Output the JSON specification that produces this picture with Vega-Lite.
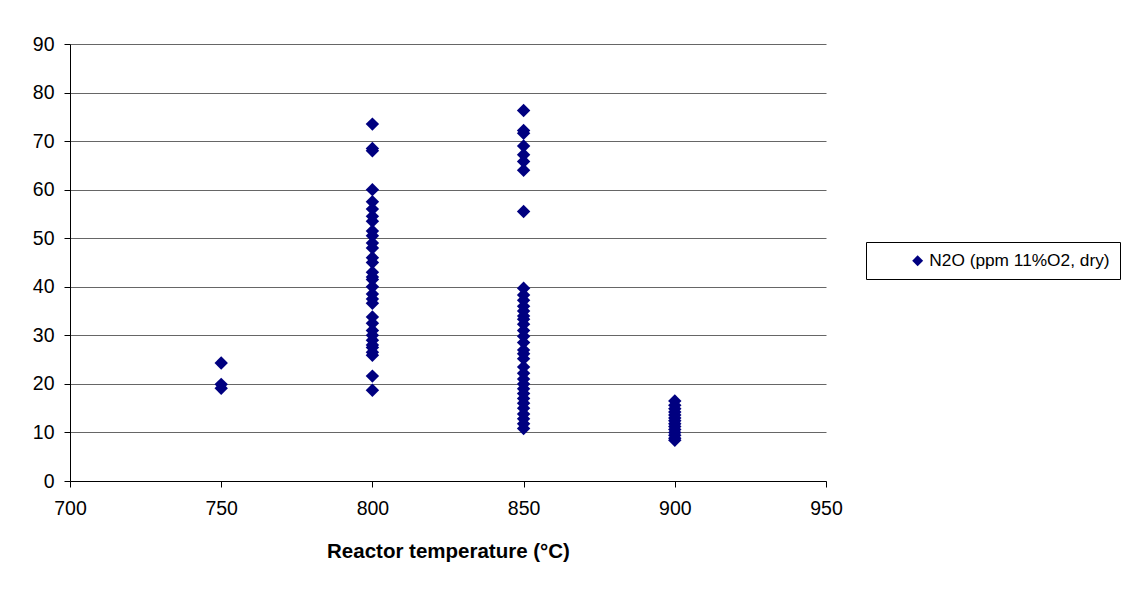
{
  "$schema": "https://vega.github.io/schema/vega-lite/v6.json",
  "width": 756,
  "height": 437,
  "autosize": {"type": "none"},
  "padding": {"left": 70, "top": 44, "right": 312, "bottom": 113},
  "background": "white",
  "config": {
    "font": "Liberation Sans",
    "view": {"stroke": null},
    "axis": {
      "labelFont": "Liberation Sans",
      "labelFontSize": 19.5,
      "labelColor": "#000000",
      "domainColor": "#000000",
      "tickColor": "#000000",
      "gridColor": "#666666",
      "tickSize": 6
    }
  },
  "data": {
    "values": [
      {"temp": 750, "n2o": 24.3, "series": "N2O (ppm 11%O2, dry)"},
      {"temp": 750, "n2o": 19.9, "series": "N2O (ppm 11%O2, dry)"},
      {"temp": 750, "n2o": 19.1, "series": "N2O (ppm 11%O2, dry)"},
      {"temp": 800, "n2o": 73.5, "series": "N2O (ppm 11%O2, dry)"},
      {"temp": 800, "n2o": 68.5, "series": "N2O (ppm 11%O2, dry)"},
      {"temp": 800, "n2o": 68.0, "series": "N2O (ppm 11%O2, dry)"},
      {"temp": 800, "n2o": 60.0, "series": "N2O (ppm 11%O2, dry)"},
      {"temp": 800, "n2o": 57.5, "series": "N2O (ppm 11%O2, dry)"},
      {"temp": 800, "n2o": 56.0, "series": "N2O (ppm 11%O2, dry)"},
      {"temp": 800, "n2o": 54.5, "series": "N2O (ppm 11%O2, dry)"},
      {"temp": 800, "n2o": 53.5, "series": "N2O (ppm 11%O2, dry)"},
      {"temp": 800, "n2o": 51.5, "series": "N2O (ppm 11%O2, dry)"},
      {"temp": 800, "n2o": 50.5, "series": "N2O (ppm 11%O2, dry)"},
      {"temp": 800, "n2o": 49.0, "series": "N2O (ppm 11%O2, dry)"},
      {"temp": 800, "n2o": 48.0, "series": "N2O (ppm 11%O2, dry)"},
      {"temp": 800, "n2o": 46.0, "series": "N2O (ppm 11%O2, dry)"},
      {"temp": 800, "n2o": 45.0, "series": "N2O (ppm 11%O2, dry)"},
      {"temp": 800, "n2o": 43.0, "series": "N2O (ppm 11%O2, dry)"},
      {"temp": 800, "n2o": 42.0, "series": "N2O (ppm 11%O2, dry)"},
      {"temp": 800, "n2o": 41.5, "series": "N2O (ppm 11%O2, dry)"},
      {"temp": 800, "n2o": 40.0, "series": "N2O (ppm 11%O2, dry)"},
      {"temp": 800, "n2o": 38.5, "series": "N2O (ppm 11%O2, dry)"},
      {"temp": 800, "n2o": 37.5, "series": "N2O (ppm 11%O2, dry)"},
      {"temp": 800, "n2o": 36.6, "series": "N2O (ppm 11%O2, dry)"},
      {"temp": 800, "n2o": 33.8, "series": "N2O (ppm 11%O2, dry)"},
      {"temp": 800, "n2o": 32.5, "series": "N2O (ppm 11%O2, dry)"},
      {"temp": 800, "n2o": 31.0, "series": "N2O (ppm 11%O2, dry)"},
      {"temp": 800, "n2o": 30.0, "series": "N2O (ppm 11%O2, dry)"},
      {"temp": 800, "n2o": 29.0, "series": "N2O (ppm 11%O2, dry)"},
      {"temp": 800, "n2o": 28.0, "series": "N2O (ppm 11%O2, dry)"},
      {"temp": 800, "n2o": 27.5, "series": "N2O (ppm 11%O2, dry)"},
      {"temp": 800, "n2o": 26.5, "series": "N2O (ppm 11%O2, dry)"},
      {"temp": 800, "n2o": 25.9, "series": "N2O (ppm 11%O2, dry)"},
      {"temp": 800, "n2o": 21.6, "series": "N2O (ppm 11%O2, dry)"},
      {"temp": 800, "n2o": 18.7, "series": "N2O (ppm 11%O2, dry)"},
      {"temp": 850, "n2o": 76.3, "series": "N2O (ppm 11%O2, dry)"},
      {"temp": 850, "n2o": 72.2, "series": "N2O (ppm 11%O2, dry)"},
      {"temp": 850, "n2o": 71.6, "series": "N2O (ppm 11%O2, dry)"},
      {"temp": 850, "n2o": 69.0, "series": "N2O (ppm 11%O2, dry)"},
      {"temp": 850, "n2o": 67.2, "series": "N2O (ppm 11%O2, dry)"},
      {"temp": 850, "n2o": 65.8, "series": "N2O (ppm 11%O2, dry)"},
      {"temp": 850, "n2o": 64.0, "series": "N2O (ppm 11%O2, dry)"},
      {"temp": 850, "n2o": 55.5, "series": "N2O (ppm 11%O2, dry)"},
      {"temp": 850, "n2o": 39.7, "series": "N2O (ppm 11%O2, dry)"},
      {"temp": 850, "n2o": 38.3, "series": "N2O (ppm 11%O2, dry)"},
      {"temp": 850, "n2o": 37.2, "series": "N2O (ppm 11%O2, dry)"},
      {"temp": 850, "n2o": 36.0, "series": "N2O (ppm 11%O2, dry)"},
      {"temp": 850, "n2o": 35.0, "series": "N2O (ppm 11%O2, dry)"},
      {"temp": 850, "n2o": 34.0, "series": "N2O (ppm 11%O2, dry)"},
      {"temp": 850, "n2o": 33.3, "series": "N2O (ppm 11%O2, dry)"},
      {"temp": 850, "n2o": 32.3, "series": "N2O (ppm 11%O2, dry)"},
      {"temp": 850, "n2o": 31.0, "series": "N2O (ppm 11%O2, dry)"},
      {"temp": 850, "n2o": 29.8, "series": "N2O (ppm 11%O2, dry)"},
      {"temp": 850, "n2o": 28.5, "series": "N2O (ppm 11%O2, dry)"},
      {"temp": 850, "n2o": 27.0, "series": "N2O (ppm 11%O2, dry)"},
      {"temp": 850, "n2o": 26.2, "series": "N2O (ppm 11%O2, dry)"},
      {"temp": 850, "n2o": 25.2, "series": "N2O (ppm 11%O2, dry)"},
      {"temp": 850, "n2o": 23.5, "series": "N2O (ppm 11%O2, dry)"},
      {"temp": 850, "n2o": 22.2, "series": "N2O (ppm 11%O2, dry)"},
      {"temp": 850, "n2o": 21.0, "series": "N2O (ppm 11%O2, dry)"},
      {"temp": 850, "n2o": 20.0, "series": "N2O (ppm 11%O2, dry)"},
      {"temp": 850, "n2o": 19.0, "series": "N2O (ppm 11%O2, dry)"},
      {"temp": 850, "n2o": 18.0, "series": "N2O (ppm 11%O2, dry)"},
      {"temp": 850, "n2o": 17.0, "series": "N2O (ppm 11%O2, dry)"},
      {"temp": 850, "n2o": 16.0, "series": "N2O (ppm 11%O2, dry)"},
      {"temp": 850, "n2o": 15.0, "series": "N2O (ppm 11%O2, dry)"},
      {"temp": 850, "n2o": 13.8, "series": "N2O (ppm 11%O2, dry)"},
      {"temp": 850, "n2o": 12.8, "series": "N2O (ppm 11%O2, dry)"},
      {"temp": 850, "n2o": 11.8, "series": "N2O (ppm 11%O2, dry)"},
      {"temp": 850, "n2o": 10.8, "series": "N2O (ppm 11%O2, dry)"},
      {"temp": 900, "n2o": 16.5, "series": "N2O (ppm 11%O2, dry)"},
      {"temp": 900, "n2o": 15.6, "series": "N2O (ppm 11%O2, dry)"},
      {"temp": 900, "n2o": 14.9, "series": "N2O (ppm 11%O2, dry)"},
      {"temp": 900, "n2o": 14.2, "series": "N2O (ppm 11%O2, dry)"},
      {"temp": 900, "n2o": 13.6, "series": "N2O (ppm 11%O2, dry)"},
      {"temp": 900, "n2o": 13.0, "series": "N2O (ppm 11%O2, dry)"},
      {"temp": 900, "n2o": 12.4, "series": "N2O (ppm 11%O2, dry)"},
      {"temp": 900, "n2o": 11.8, "series": "N2O (ppm 11%O2, dry)"},
      {"temp": 900, "n2o": 11.2, "series": "N2O (ppm 11%O2, dry)"},
      {"temp": 900, "n2o": 10.6, "series": "N2O (ppm 11%O2, dry)"},
      {"temp": 900, "n2o": 10.0, "series": "N2O (ppm 11%O2, dry)"},
      {"temp": 900, "n2o": 9.4, "series": "N2O (ppm 11%O2, dry)"},
      {"temp": 900, "n2o": 8.8, "series": "N2O (ppm 11%O2, dry)"},
      {"temp": 900, "n2o": 8.4, "series": "N2O (ppm 11%O2, dry)"}
    ]
  },
  "mark": {"type": "point", "shape": "diamond", "filled": true, "size": 180, "opacity": 1},
  "encoding": {
    "x": {
      "field": "temp",
      "type": "quantitative",
      "scale": {"domain": [700, 950], "nice": false, "zero": false},
      "axis": {
        "values": [700, 750, 800, 850, 900, 950],
        "grid": false,
        "labelFlush": false,
        "labelPadding": 12,
        "title": "Reactor temperature (°C)",
        "titleFont": "Liberation Sans",
        "titleFontSize": 20.5,
        "titleFontWeight": "bold",
        "titleColor": "#000000",
        "titlePadding": 24
      }
    },
    "y": {
      "field": "n2o",
      "type": "quantitative",
      "scale": {"domain": [0, 90], "nice": false},
      "axis": {
        "values": [0, 10, 20, 30, 40, 50, 60, 70, 80, 90],
        "grid": true,
        "labelFlush": false,
        "labelPadding": 10,
        "title": null
      }
    },
    "color": {
      "field": "series",
      "type": "nominal",
      "scale": {"range": ["#000080"]},
      "legend": {
        "title": null,
        "orient": "none",
        "legendX": 796,
        "legendY": 198,
        "strokeColor": "#000000",
        "padding": 10,
        "symbolOffset": 33,
        "symbolType": "diamond",
        "symbolSize": 120,
        "labelOffset": 3,
        "labelFontSize": 17.3,
        "labelColor": "#000000",
        "labelFont": "Liberation Sans",
        "labelLimit": 400
      }
    }
  }
}
